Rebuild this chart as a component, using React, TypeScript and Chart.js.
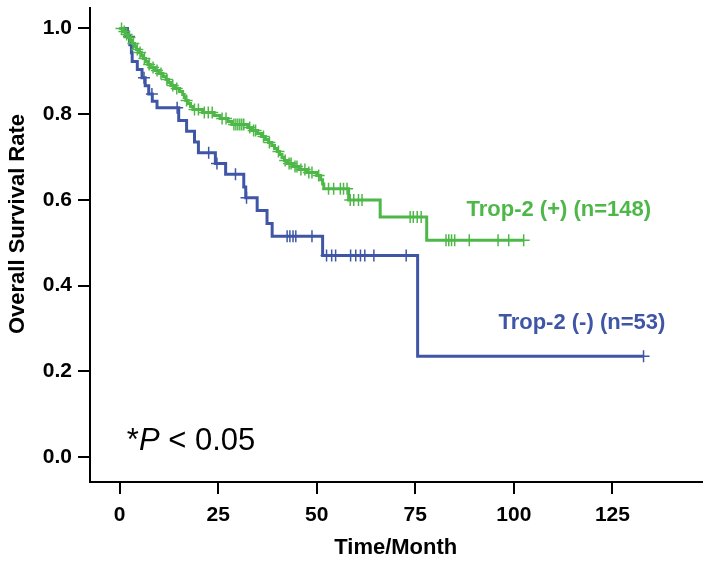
import React, { useEffect, useRef } from 'react';
import { Chart, registerables } from 'chart.js';

Chart.register(...registerables);

// Kaplan-Meier steps (time in months, survival)
const greenTimes = [0, 0.8, 1.5, 2.0, 2.8, 3.3, 3.8, 4.3, 4.9, 5.5, 6.0, 6.6, 7.2, 7.8, 9.0, 10.0, 11.0, 11.8, 12.4, 13.0, 14.0, 15.2, 16.0, 16.4, 16.8, 17.4, 18.0, 18.6, 21.0, 24.0, 25.5, 27.5, 28.5, 32.5, 33.5, 35.0, 36.0, 37.0, 37.8, 38.6, 39.3, 40.0, 40.6, 41.2, 41.8, 42.6, 44.0, 45.5, 47.5, 50.0, 51.0, 51.5, 51.8, 58.1, 66.1, 77.9, 102.5];
const greenSurv = [1.0, 0.993, 0.986, 0.979, 0.972, 0.965, 0.958, 0.951, 0.944, 0.937, 0.93, 0.923, 0.916, 0.909, 0.902, 0.895, 0.888, 0.881, 0.874, 0.867, 0.86, 0.853, 0.846, 0.839, 0.832, 0.825, 0.818, 0.811, 0.804, 0.797, 0.79, 0.783, 0.776, 0.769, 0.762, 0.755, 0.748, 0.741, 0.734, 0.727, 0.72, 0.713, 0.706, 0.699, 0.692, 0.685, 0.678, 0.671, 0.664, 0.657, 0.647, 0.637, 0.626, 0.6, 0.56, 0.506, 0.506];
const greenCensored = [0.5, 1.2, 1.8, 2.5, 3.5, 4.5, 5.2, 6.3, 7.5, 8.5, 9.5, 10.5, 12.0, 13.5, 14.5, 17.0, 19.0, 20.0, 21.5, 22.5, 23.5, 26.0, 27.0, 29.0, 29.5, 30.0, 30.5, 31.0, 31.5, 33.0, 34.0, 34.5, 36.5, 38.0, 40.3, 42.0, 43.0, 43.5, 44.5, 45.0, 46.0, 47.0, 48.0, 48.8, 50.5, 53.0, 54.3, 56.0, 56.8, 57.7, 58.5, 59.4, 60.6, 61.5, 73.7, 74.5, 75.5, 76.5, 82.8, 83.5, 84.2, 85.0, 88.7, 96.0, 98.7, 102.5];

const blueTimes = [0, 2.0, 2.6, 3.0, 3.2, 4.5, 5.7, 6.5, 7.4, 8.3, 9.5, 15.0, 17.0, 19.0, 20.0, 24.3, 26.9, 31.5, 32.0, 34.9, 37.4, 38.7, 51.5, 75.6, 132.9];
const blueSurv = [1.0, 0.981, 0.962, 0.943, 0.923, 0.904, 0.885, 0.866, 0.847, 0.83, 0.815, 0.785, 0.76, 0.735, 0.71, 0.685, 0.66, 0.63, 0.605, 0.575, 0.545, 0.515, 0.47, 0.235, 0.235];
const blueCensored = [2.4, 6.2, 8.2, 14.6, 22.6, 24.7, 29.4, 32.2, 42.5, 43.2, 44.0, 44.7, 48.8, 52.5, 53.8, 54.8, 58.6, 59.9, 61.1, 62.2, 64.5, 72.7, 132.9];

const xTicks = [0, 25, 50, 75, 100, 125];
const yTicks = [0, 0.2, 0.4, 0.6, 0.8, 1.0];

const greenLabel = 'Trop-2 (+) (n=148)';
const blueLabel = 'Trop-2 (-) (n=53)';
const xTitle = 'Time/Month';
const yTitle = 'Overall Survival Rate';

const GREEN = '#4DB848';
const BLUE = '#3F56A6';
const FONT = "'Liberation Sans', Arial, sans-serif";

function survAt(times: number[], surv: number[], t: number) {
  let v = surv[0];
  for (let i = 0; i < times.length; i++) if (times[i] <= t) v = surv[i];
  return v;
}

const textPlugin = {
  id: 'textPlugin',
  afterDraw(chart: any) {
    const { ctx, scales } = chart;
    const xs = scales.x;
    const ys = scales.y;
    ctx.save();
    // y title
    ctx.fillStyle = '#000';
    ctx.font = `bold 22px ${FONT}`;
    ctx.textAlign = 'center';
    ctx.textBaseline = 'middle';
    ctx.translate(18, 224);
    ctx.rotate(-Math.PI / 2);
    ctx.fillText(yTitle, 0, 0);
    ctx.setTransform(1, 0, 0, 1, 0, 0);
    // legends
    ctx.textAlign = 'left';
    ctx.textBaseline = 'middle';
    ctx.font = `bold 22px ${FONT}`;
    ctx.fillStyle = GREEN;
    ctx.fillText(greenLabel, xs.getPixelForValue(88), ys.getPixelForValue(0.577));
    ctx.fillStyle = BLUE;
    ctx.fillText(blueLabel, xs.getPixelForValue(96.1), ys.getPixelForValue(0.314));
    // p value
    ctx.fillStyle = '#000';
    ctx.textBaseline = 'alphabetic';
    let px = xs.getPixelForValue(1.85);
    const py = ys.getPixelForValue(0.016);
    ctx.font = `31px ${FONT}`;
    ctx.fillText('*', px, py);
    px += ctx.measureText('*').width;
    ctx.font = `italic 31px ${FONT}`;
    ctx.fillText('P', px, py);
    px += ctx.measureText('P').width;
    ctx.font = `31px ${FONT}`;
    ctx.fillText(' < 0.05', px, py);
    ctx.restore();
  },
};

export default function App() {
  const ref = useRef<HTMLCanvasElement>(null);
  useEffect(() => {
    const canvas = ref.current;
    if (!canvas) return;
    const tickFont = { family: FONT, size: 21, weight: 'bold' as const };
    const chart = new Chart(canvas, {
      type: 'line',
      data: {
        datasets: [
          {
            data: greenTimes.map((t, i) => ({ x: t, y: greenSurv[i] })),
            borderColor: GREEN,
            borderWidth: 3,
            stepped: 'before',
            pointRadius: 0,
            fill: false,
          },
          {
            data: greenCensored.map((t) => ({ x: t, y: survAt(greenTimes, greenSurv, t) })),
            showLine: false,
            pointStyle: 'cross',
            pointRadius: 6,
            pointBorderWidth: 1.5,
            borderColor: GREEN,
            pointBorderColor: GREEN,
          },
          {
            data: blueTimes.map((t, i) => ({ x: t, y: blueSurv[i] })),
            borderColor: BLUE,
            borderWidth: 3,
            stepped: 'before',
            pointRadius: 0,
            fill: false,
          },
          {
            data: blueCensored.map((t) => ({ x: t, y: survAt(blueTimes, blueSurv, t) })),
            showLine: false,
            pointStyle: 'cross',
            pointRadius: 6,
            pointBorderWidth: 1.5,
            borderColor: BLUE,
            pointBorderColor: BLUE,
          },
        ],
      },
      options: {
        animation: false,
        responsive: false,
        layout: { padding: { top: 0, right: 6, left: 0, bottom: 0 } },
        plugins: { legend: { display: false }, tooltip: { enabled: false } },
        scales: {
          x: {
            type: 'linear',
            min: -7.5,
            max: 147.6,
            afterFit: (s: any) => { s.height = 80; s.paddingLeft = 0; s.paddingRight = 0; },
            afterBuildTicks: (s: any) => { s.ticks = xTicks.map((v) => ({ value: v })); },
            grid: { drawOnChartArea: false, drawTicks: true, tickLength: 12, color: '#000', lineWidth: 2 },
            border: { display: true, color: '#000', width: 2 },
            ticks: { font: tickFont, color: '#000', padding: 9, maxRotation: 0, callback: (v: any) => String(v) },
            title: { display: true, text: xTitle, font: { family: FONT, size: 22, weight: 'bold' }, color: '#000', padding: { top: 0, bottom: 1 } },
          },
          y: {
            type: 'linear',
            min: -0.0581,
            max: 1.0488,
            afterFit: (s: any) => { s.width = 90; s.paddingTop = 0; s.paddingBottom = 0; },
            afterBuildTicks: (s: any) => { s.ticks = yTicks.map((v) => ({ value: v })); },
            grid: { drawOnChartArea: false, drawTicks: true, tickLength: 12, color: '#000', lineWidth: 2 },
            border: { display: true, color: '#000', width: 2 },
            ticks: { font: tickFont, color: '#000', padding: 6, callback: (v: any) => Number(v).toFixed(1) },
          },
        },
      },
      plugins: [textPlugin],
    });
    return () => chart.destroy();
  }, []);
  return (
    <div style={{ position: 'absolute', left: 0, top: 0, width: 709, height: 562, background: '#fff' }}>
      <canvas ref={ref} width={709} height={562} style={{ display: 'block' }} />
    </div>
  );
}
